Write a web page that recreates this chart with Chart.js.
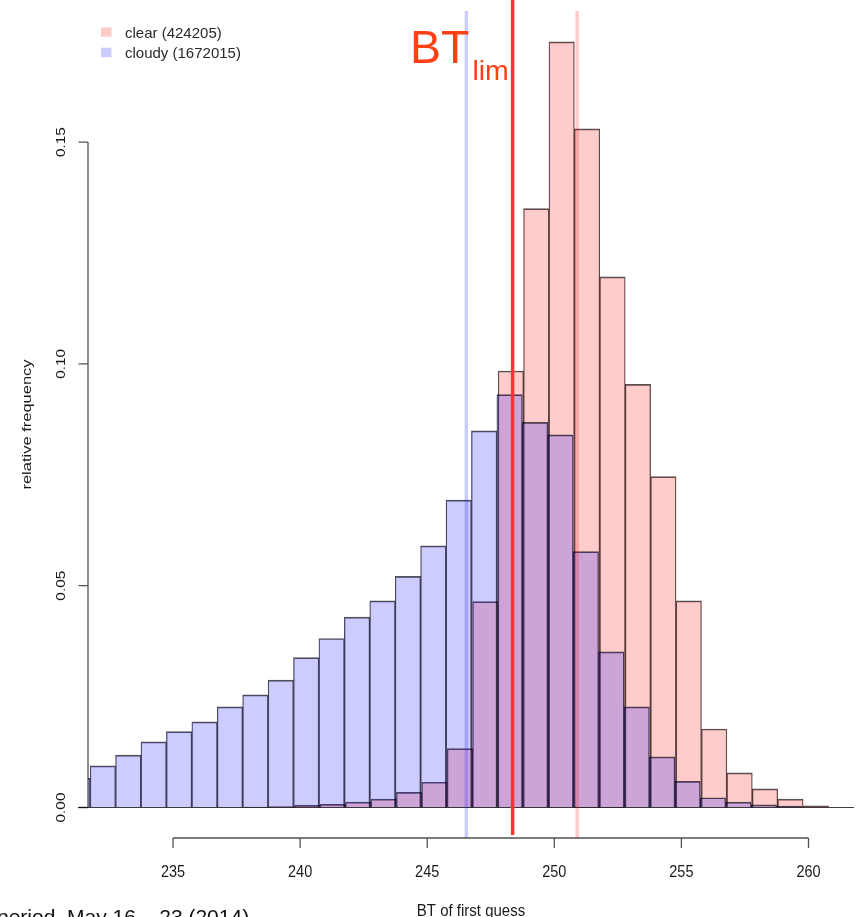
<!DOCTYPE html>
<html>
<head>
<meta charset="utf-8">
<script src="https://cdn.jsdelivr.net/npm/chart.js@4.4.1/dist/chart.umd.min.js"></script>
<style>
  html, body { margin: 0; padding: 0; background: #ffffff; }
  canvas { display: block; }
</style>
</head>
<body>
<canvas id="hist" width="857" height="917"></canvas>
<script>
// Histogram bin centres (bin width 1 K) and relative frequencies
const cloudyMids = [231.24, 232.24, 233.24, 234.24, 235.24, 236.24, 237.24, 238.24, 239.24, 240.24,
                    241.24, 242.24, 243.24, 244.24, 245.24, 246.24, 247.24, 248.24, 249.24, 250.24,
                    251.24, 252.24, 253.24, 254.24, 255.24, 256.24, 257.24, 258.24, 259.24];
const cloudyFreq = [0.0066, 0.0094, 0.0118, 0.0148, 0.0171, 0.0193, 0.0227, 0.0254, 0.0287, 0.0338,
                    0.0381, 0.0429, 0.0466, 0.0521, 0.0590, 0.0693, 0.0849, 0.0931, 0.0868, 0.0840,
                    0.0577, 0.0351, 0.0227, 0.0114, 0.0059, 0.0022, 0.0012, 0.0006, 0.0003];

const clearMids = [238.29, 239.29, 240.29, 241.29, 242.29, 243.29, 244.29, 245.29, 246.29, 247.29,
                   248.29, 249.29, 250.29, 251.29, 252.29, 253.29, 254.29, 255.29, 256.29, 257.29,
                   258.29, 259.29, 260.29];
const clearFreq = [0.0001, 0.0002, 0.0005, 0.0007, 0.0012, 0.0019, 0.0034, 0.0057, 0.0133, 0.0464,
                   0.0984, 0.1350, 0.1726, 0.1530, 0.1196, 0.0954, 0.0746, 0.0466, 0.0177, 0.0078,
                   0.0042, 0.0019, 0.0004];

const seriesLabels = ['clear (424205)', 'cloudy (1672015)'];

// Axis ticks
const xTicks = [235, 240, 245, 250, 255, 260];
const xTickLabels = ['235', '240', '245', '250', '255', '260'];
const yTicks = [0, 0.05, 0.10, 0.15];
const yTickLabels = ['0.00', '0.05', '0.10', '0.15'];

// Vertical reference lines (K)
const cloudyLine = 246.54;
const btLimit = 248.36;
const clearLine = 250.90;

const xTitle = 'BT of first guess';
const yTitle = 'relative frequency';
const periodNote = 'period  May 16 \u2013 23 (2014)';

const FONT = '"Liberation Sans", Arial, Helvetica, sans-serif';
const clearFill = 'rgba(255,0,0,0.2)';
const cloudyFill = 'rgba(0,0,255,0.2)';
const barEdge = 'rgba(0,0,0,0.68)';

// Text helper: optional rotation and stretching along / across the text
function drawText(ctx, str, x, y, size, opts) {
  const o = Object.assign({ angle: 0, sx: 1, sy: 1, align: 'center', color: '#1a1a1a' }, opts || {});
  ctx.save();
  ctx.translate(x, y);
  if (o.angle) ctx.rotate(o.angle);
  ctx.scale(o.sx, o.sy);
  ctx.font = size + 'px ' + FONT;
  ctx.fillStyle = o.color;
  ctx.textAlign = o.align;
  ctx.textBaseline = 'alphabetic';
  ctx.fillText(str, 0, 0);
  ctx.restore();
}

const decorations = {
  id: 'decorations',
  afterDatasetsDraw(chart) {
    const ctx = chart.ctx;
    const xs = chart.scales.x;
    const area = chart.chartArea;
    ctx.save();
    // baseline at zero
    const y0 = chart.scales.y.getPixelForValue(0);
    ctx.strokeStyle = 'rgba(0,0,0,0.75)';
    ctx.lineWidth = 1.2;
    ctx.beginPath();
    ctx.moveTo(area.left - 10, y0);
    ctx.lineTo(area.right, y0);
    ctx.stroke();

    // reference lines
    ctx.lineWidth = 3.5;
    ctx.strokeStyle = cloudyFill;
    let px = xs.getPixelForValue(cloudyLine);
    ctx.beginPath(); ctx.moveTo(px, area.top); ctx.lineTo(px, area.bottom); ctx.stroke();
    ctx.strokeStyle = clearFill;
    px = xs.getPixelForValue(clearLine);
    ctx.beginPath(); ctx.moveTo(px, area.top); ctx.lineTo(px, area.bottom); ctx.stroke();
    ctx.strokeStyle = '#ff3535';
    ctx.lineWidth = 3.5;
    px = xs.getPixelForValue(btLimit);
    ctx.beginPath(); ctx.moveTo(px, 0); ctx.lineTo(px, area.bottom - 3); ctx.stroke();
    ctx.restore();
  },
  afterDraw(chart) {
    const ctx = chart.ctx;
    const xs = chart.scales.x;
    const ys = chart.scales.y;
    const area = chart.chartArea;
    ctx.save();
    ctx.strokeStyle = 'rgba(0,0,0,0.68)';
    ctx.lineWidth = 1.3;

    // x axis (detached, at bottom of plot region)
    const ax = area.bottom;
    ctx.beginPath();
    ctx.moveTo(xs.getPixelForValue(xTicks[0]), ax);
    ctx.lineTo(xs.getPixelForValue(xTicks[xTicks.length - 1]), ax);
    xTicks.forEach(t => {
      const p = xs.getPixelForValue(t);
      ctx.moveTo(p, ax);
      ctx.lineTo(p, ax + 10);
    });
    ctx.stroke();
    xTicks.forEach((t, i) => {
      drawText(ctx, xTickLabels[i], xs.getPixelForValue(t), ax + 38.7, 14.5, { sy: 1.12 });
    });

    // y axis
    const ay = area.left;
    ctx.beginPath();
    ctx.moveTo(ay, ys.getPixelForValue(yTicks[0]));
    ctx.lineTo(ay, ys.getPixelForValue(yTicks[yTicks.length - 1]));
    yTicks.forEach(t => {
      const p = ys.getPixelForValue(t);
      ctx.moveTo(ay, p);
      ctx.lineTo(ay - 9.5, p);
    });
    ctx.stroke();
    yTicks.forEach((t, i) => {
      drawText(ctx, yTickLabels[i], ay - 23, ys.getPixelForValue(t), 12.4, { angle: -Math.PI / 2, sx: 1.24 });
    });

    // axis titles
    drawText(ctx, xTitle, (area.left + area.right) / 2, 916, 15, { sy: 1.12 });
    drawText(ctx, yTitle, 30.5, (area.top + area.bottom) / 2, 12.4, { angle: -Math.PI / 2, sx: 1.33 });

    // period note (runs off the lower-left edge)
    drawText(ctx, periodNote, -3, 923.5, 21, { align: 'left', color: '#111' });

    // legend
    const fills = [clearFill, cloudyFill];
    seriesLabels.forEach((lab, i) => {
      const top = 27.3 + i * 20.4;
      ctx.fillStyle = fills[i];
      ctx.fillRect(101, top, 10.5, 9.5);
      drawText(ctx, lab, 125, top + 10.3, 15, { align: 'left', color: '#2a2a2a' });
    });

    // BT_lim annotation
    drawText(ctx, 'BT', 410, 63.3, 46.5, { align: 'left', color: '#ff4012' });
    drawText(ctx, 'lim', 472.4, 80, 28.5, { align: 'left', color: '#ff4012' });
    ctx.restore();
  }
};

const xMin = 231.656, xMax = 261.79;
const yMin = -0.006876, yMax = 0.17955;

const barBorder = { top: 1.05, left: 0.65, right: 0.65, bottom: 0 };

new Chart(document.getElementById('hist'), {
  type: 'bar',
  data: {
    datasets: [
      {
        label: seriesLabels[0],
        data: clearMids.map((m, i) => ({ x: m, y: clearFreq[i] })),
        xAxisID: 'xClear',
        backgroundColor: clearFill,
        borderColor: barEdge,
        borderWidth: barBorder,
        borderSkipped: false,
        barPercentage: 1,
        categoryPercentage: 1,
        grouped: false,
        order: 2
      },
      {
        label: seriesLabels[1],
        data: cloudyMids.map((m, i) => ({ x: m, y: cloudyFreq[i] })),
        xAxisID: 'x',
        backgroundColor: cloudyFill,
        borderColor: barEdge,
        borderWidth: barBorder,
        borderSkipped: false,
        barPercentage: 1,
        categoryPercentage: 1,
        grouped: false,
        order: 1
      }
    ]
  },
  options: {
    responsive: false,
    devicePixelRatio: 1,
    animation: false,
    layout: { padding: { left: 88, right: 3, top: 11, bottom: 79 } },
    plugins: { legend: { display: false }, tooltip: { enabled: false } },
    scales: {
      x: { type: 'linear', display: false, min: xMin, max: xMax, offset: false, ticks: { stepSize: 5 } },
      xClear: { type: 'linear', display: false, min: xMin, max: xMax, offset: false, ticks: { stepSize: 5 } },
      y: { type: 'linear', display: false, min: yMin, max: yMax }
    }
  },
  plugins: [decorations]
});
</script>
</body>
</html>
